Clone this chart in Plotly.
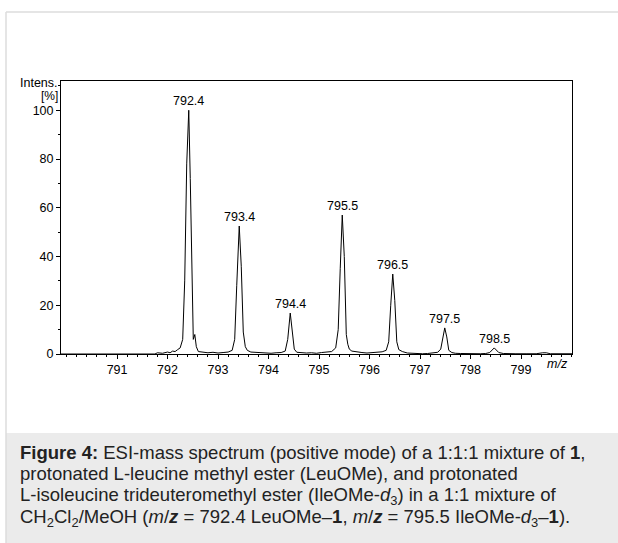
import plotly.graph_objects as go

# ---- data ----
mz_profile = [
    789.89, 791.75, 791.8, 791.9, 792.0, 792.05, 792.1, 792.15, 792.2, 792.25, 792.3,
    792.34, 792.38, 792.42, 792.45, 792.48, 792.51, 792.54, 792.57, 792.61, 792.7,
    792.8, 792.9, 793.0, 793.1, 793.2, 793.28, 793.33, 793.37, 793.42, 793.46,
    793.5, 793.54, 793.58, 793.65, 793.75, 793.85, 793.95, 794.05, 794.15, 794.25,
    794.33, 794.38, 794.43, 794.47, 794.51, 794.56, 794.65, 794.75, 794.85, 794.95,
    795.05, 795.15, 795.25, 795.33, 795.38, 795.42, 795.46, 795.5, 795.54, 795.57,
    795.6, 795.65, 795.75, 795.85, 795.95, 796.05, 796.15, 796.25, 796.33, 796.38,
    796.42, 796.46, 796.5, 796.54, 796.58, 796.65, 796.75, 796.85, 796.95, 797.05,
    797.15, 797.25, 797.35, 797.41, 797.45, 797.49, 797.53, 797.57, 797.63, 797.7,
    797.8, 797.9, 798.0, 798.1, 798.2, 798.3, 798.38, 798.47, 798.56, 798.65,
    798.75, 798.9, 799.1, 799.3, 799.43, 799.5, 799.58, 799.7, 800.01,
]
intensity_profile = [
    0.0, 0.0, 0.5, 0.3, 0.8, 0.5, 1.2, 1.0, 1.8, 2.5, 6.0,
    30.0, 78.0, 100.0, 72.0, 30.0, 6.0, 8.0, 3.0, 1.0, 0.8,
    0.5, 0.7, 0.4, 0.6, 0.8, 1.5, 6.0, 28.0, 52.5, 36.0,
    9.0, 3.0, 1.5, 0.8, 0.6, 0.4, 0.5, 0.3, 0.5, 0.6,
    1.2, 6.0, 16.8, 9.0, 2.0, 0.7, 0.5, 0.4, 0.5, 0.3,
    0.6, 0.8, 1.0, 2.5, 10.0, 35.0, 57.0, 40.0, 8.0, 4.0,
    2.0, 1.2, 0.8, 0.6, 0.4, 0.5, 0.6, 0.9, 1.5, 5.0,
    20.0, 32.8, 22.0, 5.0, 1.8, 1.0, 0.4, 0.2, 0.3, 0.1,
    0.2, 0.4, 0.7, 2.0, 7.0, 10.7, 7.0, 1.5, 0.6, 0.3,
    0.2, 0.1, 0.1, 0.1, 0.1, 0.2, 0.6, 2.5, 0.6, 0.2,
    0.1, 0.1, 0.1, 0.1, 0.5, 0.5, 0.1, 0.1, 0.1,
]
peak_mz = [792.42, 793.42, 794.43, 795.46, 796.46, 797.49, 798.47]
peak_height = [100.0, 52.5, 16.8, 57.0, 32.8, 10.7, 2.5]
peak_labels = ["792.4", "793.4", "794.4", "795.5", "796.5", "797.5", "798.5"]
x_ticks = [791, 792, 793, 794, 795, 796, 797, 798, 799]
y_ticks = [0, 20, 40, 60, 80, 100]

caption_lines = [
    "<b>Figure 4:</b> ESI-mass spectrum (positive mode) of a 1:1:1 mixture of <b>1</b>,",
    "protonated L-leucine methyl ester (LeuOMe), and protonated",
    "L-isoleucine trideuteromethyl ester (IleOMe-<i>d</i><sub>3</sub>) in a 1:1 mixture of",
    "CH<sub>2</sub>Cl<sub>2</sub>/MeOH (<i>m</i>/<b><i>z</i></b> = 792.4 LeuOMe–<b>1</b>, "
    "<i>m</i>/<b><i>z</i></b> = 795.5 IleOMe-<i>d</i><sub>3</sub>–<b>1</b>).",
]

W, H = 618, 543
L, R, T, B = 61, 572, 81, 354
pw, ph = R - L, B - T


def px(x):
    return (x - L) / pw


def py(y):
    return (B - y) / ph


FONT = "Liberation Sans, Arial, sans-serif"
FS = 12.5

fig = go.Figure()
fig.add_trace(go.Scatter(
    x=mz_profile, y=intensity_profile, mode="lines",
    line=dict(color="black", width=1), hoverinfo="skip", showlegend=False,
))

for xm, yh, lab in zip(peak_mz, peak_height, peak_labels):
    fig.add_annotation(x=xm, y=yh, text=lab, showarrow=False, xanchor="center",
                       yanchor="bottom", yshift=0, font=dict(size=FS, color="black", family=FONT))

# axis titles
fig.add_annotation(xref="paper", yref="paper", x=px(59), y=py(83), text="Intens.",
                   showarrow=False, xanchor="right", yanchor="middle", borderpad=0,
                   font=dict(size=FS, color="black", family=FONT))
fig.add_annotation(xref="paper", yref="paper", x=px(59), y=py(96), text="[%]",
                   showarrow=False, xanchor="right", yanchor="middle", borderpad=0,
                   font=dict(size=FS - 0.5, color="black", family=FONT))
fig.add_annotation(xref="paper", yref="paper", x=px(557), y=py(364), text="<i>m/z</i>",
                   showarrow=False, xanchor="center", yanchor="middle",
                   font=dict(size=FS, color="black", family=FONT))

# caption background & page border
fig.add_shape(type="rect", xref="paper", yref="paper", x0=px(6), x1=px(620),
              y0=py(545), y1=py(433), fillcolor="#ebebeb", line=dict(width=0), layer="below")
fig.add_shape(type="line", xref="paper", yref="paper", x0=px(6), x1=px(620),
              y0=py(12), y1=py(12), line=dict(color="#dcdcdc", width=1.5))
fig.add_shape(type="line", xref="paper", yref="paper", x0=px(6), x1=px(6),
              y0=py(12), y1=py(545), line=dict(color="#dcdcdc", width=1.5))

line_tops = [441, 462, 483, 505]
for txt, top in zip(caption_lines, line_tops):
    fig.add_annotation(xref="paper", yref="paper", x=px(19), y=py(top), text=txt,
                       showarrow=False, xanchor="left", yanchor="top", align="left",
                       borderpad=0, font=dict(size=18.5, color="#222222", family=FONT))

fig.update_layout(
    width=W, height=H,
    margin=dict(l=L, r=W - R, t=T, b=H - B, pad=0),
    paper_bgcolor="white", plot_bgcolor="white",
    font=dict(family=FONT, size=FS, color="black"),
    xaxis=dict(range=[789.89, 800.01], tickvals=x_ticks, ticktext=[str(v) for v in x_ticks],
               showgrid=False, zeroline=False, showline=True, linecolor="black", linewidth=1,
               mirror=True, ticks="outside", ticklen=4, tickcolor="black",
               minor=dict(dtick=0.2, tick0=791, ticks="outside", ticklen=2, tickcolor="black"),
               tickfont=dict(size=FS, family=FONT)),
    yaxis=dict(range=[0, 112], tickvals=y_ticks, showgrid=False, zeroline=False,
               showline=True, linecolor="black", linewidth=1, mirror=True,
               ticks="outside", ticklen=4, tickcolor="black",
               minor=dict(dtick=10, tick0=0, ticks="outside", ticklen=2, tickcolor="black"),
               tickfont=dict(size=FS, family=FONT)),
)

fig.write_html(
    "out.html",
    config=dict(displayModeBar=False, staticPlot=True),
    post_script="document.body.style.margin='0';document.body.style.overflow='hidden';",
)
